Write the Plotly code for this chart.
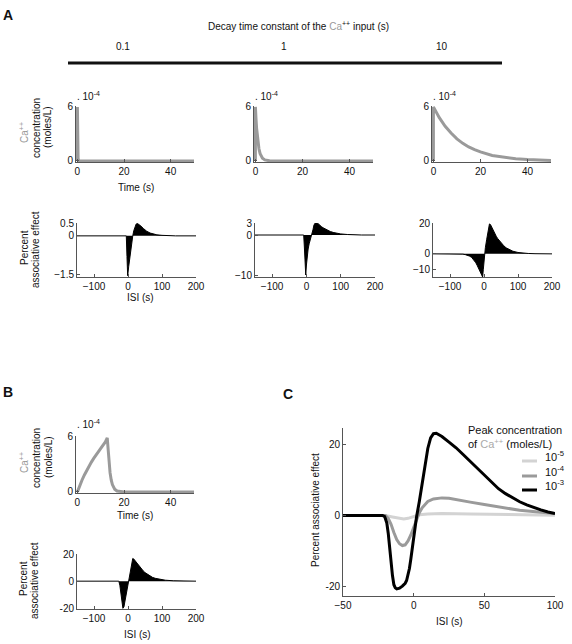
import plotly.graph_objects as go

W, H = 572, 644
FONT = "Arial, Liberation Sans, sans-serif"
GRAY = "#9a9a9a"
LIGHT = "#d3d3d3"
AXC = "#555555"

# ---------------- DATA ----------------
# Panel A top: Ca++ concentration (x 1e-4 moles/L) vs time (s), decay tau 0.1, 1, 10 s
t_tau01 = [0, 0, 0.1, 0.2, 0.3, 0.5, 0.8, 50]
c_tau01 = [0, 6, 2.2, 0.8, 0.3, 0.04, 0, 0]
t_tau1 = [0, 0, 0.25, 0.5, 0.75, 1, 1.5, 2, 2.5, 3, 4, 5, 6, 8, 50]
c_tau1 = [0, 6, 4.7, 3.65, 2.85, 2.2, 1.35, 0.8, 0.5, 0.3, 0.11, 0.04, 0.015, 0, 0]
t_tau10 = [0, 0, 2.5, 5, 7.5, 10, 12.5, 15, 17.5, 20, 25, 30, 35, 40, 45, 50]
c_tau10 = [0, 6, 4.8, 3.85, 3.1, 2.45, 1.95, 1.55, 1.25, 1.0, 0.6, 0.38, 0.24, 0.15, 0.09, 0.06]

# Panel A bottom: percent associative effect vs ISI (s)
isi_a1 = [-150, -5, -3, -1, 2, 5, 8, 11, 14, 17, 20, 24, 28, 32, 38, 45, 55, 65, 75, 85, 100, 120, 140, 200]
eff_a1 = [0, 0, -0.8, -1.55, -1.2, -0.85, -0.5, -0.2, 0, 0.2, 0.35, 0.46, 0.48, 0.45, 0.38, 0.29, 0.18, 0.11, 0.07, 0.04, 0.02, 0.005, 0, 0]
isi_a2 = [-150, -8, -6, -4, -2, 0, 2, 5, 8, 12, 16, 19, 22, 25, 28, 32, 38, 45, 51, 60, 70, 80, 90, 100, 120, 140, 160, 200]
eff_a2 = [0, 0, -3, -6.5, -10, -7.5, -5.5, -3.5, -2.2, -1, 0, 1.3, 2.5, 3.2, 3.3, 3.0, 2.5, 2.0, 1.7, 1.2, 0.85, 0.6, 0.4, 0.27, 0.12, 0.04, 0, 0]
isi_a3 = [-150, -70, -62, -55, -48, -42, -36, -32, -28, -24, -20, -16, -12, -8, -4, -2, 0, 1, 4, 8, 12, 16, 19, 22, 26, 30, 36, 40, 46, 52, 58, 65, 75, 85, 100, 115, 130, 150, 200]
eff_a3 = [0, 0, -0.2, -0.5, -1.0, -1.5, -2.4, -3.5, -4.4, -5.8, -7.5, -9.5, -11.5, -13.5, -15, -10, -3.5, 0, 4, 9.5, 15, 19.4, 19, 17.5, 15.7, 14.2, 11.4, 10, 8.2, 6.6, 5.3, 3.9, 2.7, 1.7, 0.9, 0.5, 0.25, 0.1, 0]

# Panel B: Ca++ input rising for ~13 s then decaying; and resulting effect
t_b = [0, 1, 2, 3, 4, 5, 6, 7, 8, 9, 10, 11, 12, 12.8, 13.2, 13.6, 14, 14.5, 15, 16, 17, 20, 50]
c_b = [0, 0.7, 1.3, 1.85, 2.35, 2.8, 3.25, 3.65, 4.05, 4.4, 4.75, 5.1, 5.45, 5.9, 4.6, 3.1, 2.1, 1.3, 0.8, 0.3, 0.1, 0, 0]
isi_b = [-150, -27, -24, -21, -18, -15, -12, -9, -6, -3, 0, 2, 5, 8, 11, 14, 17, 20, 25, 30, 35, 40, 45, 50, 57, 64, 72, 80, 94, 110, 133, 160, 200]
eff_b = [0, 0, -3, -10, -17, -20, -19, -15, -10, -5, -1, 0, 4, 9, 14, 16.7, 16.3, 15.3, 13.8, 12.2, 10.5, 9, 7.5, 6.3, 5, 3.9, 2.8, 2.1, 1.3, 0.7, 0.3, 0.05, 0]

# Panel C: effect vs ISI for three peak Ca++ concentrations
isi_c_hi = [-50, -22, -20.5, -19, -18, -17, -16, -15, -14, -13, -12, -10, -8, -6, -5, -4, -3, -2, -1, 0, 2, 4, 6, 8, 10, 12, 14, 16, 20, 25, 30, 35, 40, 45, 50, 55, 60, 65, 70, 75, 80, 85, 90, 95, 100]
eff_c_hi = [0, 0, -0.3, -2.1, -5, -9.5, -13.5, -17, -19.6, -20.5, -20.8, -20.6, -20, -19.2, -18.4, -17, -15, -12.3, -9, -6, -0.5, 4, 8.8, 14.5, 19, 22, 23.2, 23.3, 22.4, 20.8, 19.2, 17.3, 15.4, 13.4, 11.6, 9.6, 7.6, 6.2, 5.0, 3.9, 3.0, 2.2, 1.6, 1.0, 0.6]
isi_c_mid = [-50, -20, -18, -16, -14, -12, -10, -8, -6, -4, -2, 0, 2, 4, 6, 8, 10, 14, 20, 25, 30, 40, 50, 60, 75, 90, 100]
eff_c_mid = [0, 0, -0.8, -2.5, -4.8, -6.8, -8, -8.5, -8.3, -7.2, -5.5, -3.5, -1.2, 0.8, 2.2, 3.2, 4, 4.7, 5, 4.9, 4.6, 3.8, 3.1, 2.4, 1.5, 0.9, 0.6]
isi_c_lo = [-50, -20, -15, -10, -7, -4, 0, 4, 10, 20, 40, 60, 100]
eff_c_lo = [0, 0, -0.4, -0.9, -1.0, -0.8, -0.3, 0.2, 0.45, 0.55, 0.45, 0.3, 0.1]
legend_labels = ["10<sup>-5</sup>", "10<sup>-4</sup>", "10<sup>-3</sup>"]

tau_labels = ["0.1", "1", "10"]
conc_ticks = [0, 6]
time_ticks = [0, 20, 40]
isi_ticks = [-100, 0, 100, 200]
isi_ticktext = ["\u2212100", "0", "100", "200"]
c_xticks = [-50, 0, 50, 100]
c_xticktext = ["\u221250", "0", "50", "100"]

# ---------------- FIGURE ----------------
fig = go.Figure()


def xdom(a, b):
    return [a / W, b / W]


def ydom(t, b):
    return [1 - b / H, 1 - t / H]


panels = [
    ((76, 194), (106, 162), [-0.6, 50], [-0.12, 6.1], time_ticks, None, conc_ticks, None),
    ((254, 373), (106, 162), [-0.6, 50], [-0.12, 6.1], time_ticks, None, conc_ticks, None),
    ((432, 551), (106, 162), [-0.6, 50], [-0.12, 6.1], time_ticks, None, conc_ticks, None),
    ((77, 196), (223, 277), [-150, 200], [-1.6, 0.5], isi_ticks, isi_ticktext, [-1.5, 0, 0.5], ["\u22121.5", "0", "0.5"]),
    ((255, 375), (223, 277), [-150, 200], [-10.5, 3], isi_ticks, isi_ticktext, [-10, 0, 3], ["\u221210", "0", "3"]),
    ((433, 552), (223, 277), [-150, 200], [-15, 20], isi_ticks, isi_ticktext, [-10, 0, 20], ["\u221210", "0", "20"]),
    ((76, 194), (436, 493), [-0.6, 50], [-0.12, 6.1], time_ticks, None, conc_ticks, None),
    ((77, 196), (554, 609), [-150, 200], [-20.5, 20], isi_ticks, isi_ticktext, [-20, 0, 20], ["-20", "0", "20"]),
    ((343, 555), (428, 596), [-50, 100], [-22.8, 24.8], c_xticks, c_xticktext, [-20, 0, 20], ["-20", "0", "20"]),
]

lay = {}
for i, (xp, yp, xr, yr, xt, xtt, yt, ytt) in enumerate(panels, start=1):
    sx = "" if i == 1 else str(i)
    common = dict(showline=True, linecolor=AXC, linewidth=1, ticks="inside", ticklen=3,
                  tickcolor=AXC, showgrid=False, zeroline=False, automargin=False,
                  tickfont=dict(size=10, family=FONT, color="#111"))
    xa = dict(common, domain=xdom(*xp), range=xr, anchor="y" + sx, tickvals=xt)
    if xtt:
        xa["ticktext"] = xtt
    ya = dict(common, domain=ydom(*yp), range=yr, anchor="x" + sx, tickvals=yt)
    if ytt:
        ya["ticktext"] = ytt
    lay["xaxis" + sx] = xa
    lay["yaxis" + sx] = ya


def add_line(x, y, n, color, width):
    sx = "" if n == 1 else str(n)
    fig.add_trace(go.Scatter(x=x, y=y, xaxis="x" + sx, yaxis="y" + sx, mode="lines",
                             line=dict(color=color, width=width), hoverinfo="skip", showlegend=False))


def add_fill(x, y, n):
    sx = "" if n == 1 else str(n)
    fig.add_trace(go.Scatter(x=x, y=y, xaxis="x" + sx, yaxis="y" + sx, mode="lines",
                             fill="tozeroy", fillcolor="black",
                             line=dict(color="black", width=1), hoverinfo="skip", showlegend=False))


add_line(t_tau01, c_tau01, 1, GRAY, 3)
add_line(t_tau1, c_tau1, 2, GRAY, 3)
add_line(t_tau10, c_tau10, 3, GRAY, 3)
add_fill(isi_a1, eff_a1, 4)
add_fill(isi_a2, eff_a2, 5)
add_fill(isi_a3, eff_a3, 6)
add_line(t_b, c_b, 7, GRAY, 3)
add_fill(isi_b, eff_b, 8)
add_line(isi_c_lo, eff_c_lo, 9, LIGHT, 3)
add_line(isi_c_mid, eff_c_mid, 9, GRAY, 3)
add_line(isi_c_hi, eff_c_hi, 9, "black", 3)

ann = []


def txt(s, px, py, size=10, xanchor="center", yanchor="middle", angle=0, color="#111", align="center"):
    ann.append(dict(text=s, x=px / W, y=1 - py / H, xref="paper", yref="paper",
                    xanchor=xanchor, yanchor=yanchor, showarrow=False, textangle=angle, align=align,
                    font=dict(size=size, family=FONT, color=color)))


CA = "<span style='color:#999999'>Ca<sup>++</sup></span>"

# panel letters
txt("<b>A</b>", 8, 15, size=14)
txt("<b>B</b>", 8, 392, size=14)
txt("<b>C</b>", 288, 394, size=14)

# header of A
txt("Decay time constant of the <span style='color:#999999'>Ca</span><sup>++</sup> input (s)",
    298, 34, yanchor="bottom")
for lab, px in zip(tau_labels, [123, 284, 442]):
    txt(lab, px, 47)

# exponent labels
for px, py in [(75, 104), (253, 104), (431, 104), (75, 432)]:
    txt(". 10<sup>-4</sup>", px, py, xanchor="left", yanchor="bottom")

# y labels
for dy in [0, 330]:
    txt(CA, 24, 133 + dy, angle=-90)
    txt("concentration", 37, 128 + dy, angle=-90)
    txt("(moles/L)", 48, 127 + dy, angle=-90)
txt("Percent", 24, 248, angle=-90)
txt("associative effect", 35, 250, angle=-90)
txt("Percent", 23, 579, angle=-90)
txt("associative effect", 34, 581, angle=-90)

txt("Time (s)", 136, 187)
txt("Time (s)", 135, 515)
txt("ISI (s)", 140, 298)
txt("ISI (s)", 137, 634)

# panel C labels
txt("Percent associative effect", 315, 510, angle=-90)
txt("ISI (s)", 449, 621)
txt("Peak concentration<br>of <span style='color:#aaaaaa'>Ca<sup>++</sup></span> (moles/L)",
    466, 422, xanchor="left", yanchor="top", size=11, align="left")
for lab, py in zip(legend_labels, [465, 480, 494]):
    txt(lab, 543, py, xanchor="left", yanchor="bottom", size=11)

shapes = [
    dict(type="line", xref="paper", yref="paper", x0=68 / W, x1=502 / W, y0=1 - 63 / H, y1=1 - 63 / H,
         line=dict(color="#111", width=3)),
]
for col, py in zip([LIGHT, GRAY, "black"], [461, 476, 490]):
    shapes.append(dict(type="line", xref="paper", yref="paper", x0=522 / W, x1=537 / W,
                       y0=1 - py / H, y1=1 - py / H, line=dict(color=col, width=3)))

fig.update_layout(
    width=W, height=H, autosize=False,
    margin=dict(l=0, r=0, t=0, b=0),
    paper_bgcolor="white", plot_bgcolor="white",
    annotations=ann, shapes=shapes,
    font=dict(family=FONT, size=10, color="#111"),
    **lay,
)

fig.write_html("out.html", config={"displayModeBar": False, "staticPlot": True},
               post_script="document.body.style.margin='0px';document.body.style.padding='0px';")
